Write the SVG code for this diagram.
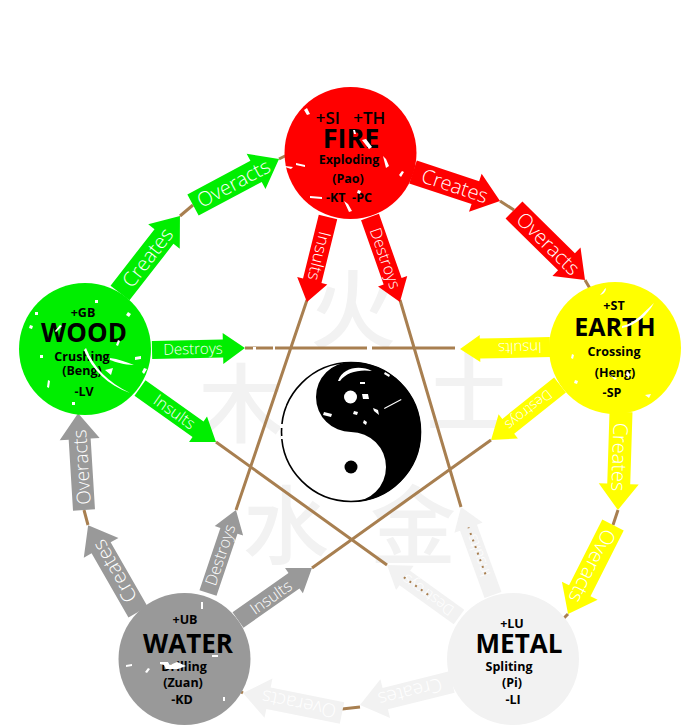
<svg xmlns="http://www.w3.org/2000/svg" width="700" height="726" viewBox="0 0 700 726">
<style>
  text { font-family: "Open Sans", "Noto Sans", "Noto Sans CJK SC", sans-serif; }
  .link { fill: none; stroke: #a87f50; stroke-width: 3; }
  .ghost { font-family: "Noto Sans CJK SC", sans-serif; font-size: 86px; font-weight: 500; fill: #f2f2f2; text-anchor: middle; }
  .lbl { fill: #fff; font-size: 20px; font-weight: 300; text-anchor: middle; }
  .small { font-size: 12.5px; font-weight: 700; fill: #000; text-anchor: middle; }
  .big { font-size: 26px; font-weight: 700; fill: #000; text-anchor: middle; }
  .fire { fill: #f00; } .wood { fill: #0e0; } .earth { fill: #ff0; } .water { fill: #999; } .metal { fill: #f2f2f2; }
  .fleck { fill: #fff; }
  .seep { fill: none; stroke: #a87f50; stroke-width: 2; stroke-dasharray: 2 5; }
</style>

<g id="characters">
  <text class="ghost" x="353" y="342">火</text>
  <text class="ghost" x="241" y="436">木</text>
  <text class="ghost" x="469" y="424">土</text>
  <text class="ghost" x="286" y="558">水</text>
  <text class="ghost" x="413" y="558">金</text>
</g>

<g id="connectors">
  <path class="link" d="M500 201L514 210M585 280L592 292M180 216L193 205M279 159L287 155M618 510L613 525M568 614L559 623M360 707L342 709M243 693L234 688M88 525L84 510"/>
  <path class="link" d="M245 348H460M307 300L236 510M400 300L461 507M216 442L387 565M491 440L312 568"/>
</g>

<g id="taiji">
  <circle cx="351" cy="432" r="69.500" fill="#fff" stroke="#000" stroke-width="1.600"/>
  <path fill="#000" d="M351 362A70 70 0 0 1 351 502A35 35 0 0 0 351 432A35 35 0 0 1 351 362Z"/>
  <circle cx="350.500" cy="397" r="6.500" fill="#fff"/>
  <circle cx="351" cy="467" r="6.500" fill="#000"/>
  <path class="fleck" d="M338 381C343 367 360 365 372 371C360 369 346 372 340 381ZM360 382l5 0 0 2 -5 0ZM362 394l6 0 1 5 -6 0ZM324 412l8 2 -1 3 -8 -2ZM373 408l5 2 1 5 -5 -4ZM354 411l4 1 -1 3 -4 -1ZM364 420l3 2 -1 3 -3 -2ZM384 408l17 -9 .5 1 -17 9ZM385 372l5 3 -1 2 -5 -3Z"/>
  <path class="fleck" d="M280 424h4v4h-4ZM281 436h4v3h-4ZM291 376l3 2 -2 2 -3 -2ZM286 392l3 1 -1 3 -3 -1ZM283 403l3 1 -1 3 -3 -1Z"/>
</g>

<g id="arrows-fire">
  <g transform="translate(413 172) rotate(18.400)"><polygon class="fire" points="0,-12 65.700,-12 65.700,-20 91.700,0 65.700,20 65.700,12 0,12"/><text class="lbl" x="44" y="7">Creates</text></g>
  <g transform="translate(514 210) rotate(44.600)"><polygon class="fire" points="0,-12 73.700,-12 73.700,-20 99.700,0 73.700,20 73.700,12 0,12"/><text class="lbl" x="48" y="7">Overacts</text></g>
  <g transform="translate(328 217) rotate(103.900)"><polygon class="fire" points="0,-9.500 65.600,-9.500 65.600,-15.500 87.600,0 65.600,15.500 65.600,9.500 0,9.500"/><text class="lbl" x="40" y="5" style="font-size:17px">Insults</text></g>
  <g transform="translate(370 217) rotate(70.600)"><polygon class="fire" points="0,-9.500 68.100,-9.500 68.100,-15.500 90.100,0 68.100,15.500 68.100,9.500 0,9.500"/><text class="lbl" x="44" y="5" style="font-size:16px">Destroys</text></g>
</g>

<g id="arrows-wood">
  <g transform="translate(120 293) rotate(-52.100)"><polygon class="wood" points="0,-12 71.600,-12 71.600,-20 97.600,0 71.600,20 71.600,12 0,12"/><text class="lbl" x="45" y="7">Creates</text></g>
  <g transform="translate(193 205) rotate(-28.100)"><polygon class="wood" points="0,-12 71.500,-12 71.500,-20 97.500,0 71.500,20 71.500,12 0,12"/><text class="lbl" x="46" y="7">Overacts</text></g>
  <g transform="translate(152 350) rotate(-1.200)"><polygon class="wood" points="0,-9 71,-9 71,-15.500 93,0 71,15.500 71,9 0,9"/><text class="lbl" x="41" y="5" style="font-size:15px">Destroys</text></g>
  <g transform="translate(140 388) rotate(35.400)"><polygon class="wood" points="0,-9.500 71.200,-9.500 71.200,-15.500 93.200,0 71.200,15.500 71.200,9.500 0,9.500"/><text class="lbl" x="42" y="5" style="font-size:16px">Insults</text></g>
</g>

<g id="arrows-earth">
  <g transform="translate(550 347) rotate(178.700)"><polygon class="earth" points="0,-10 70,-10 70,-13.500 90,0 70,13.500 70,10 0,10"/><text class="lbl" x="30" y="5" style="font-size:15px">Insults</text></g>
  <g transform="translate(560 385) rotate(141.400)"><polygon class="earth" points="0,-9.500 66.200,-9.500 66.200,-15.500 88.200,0 66.200,15.500 66.200,9.500 0,9.500"/><text class="lbl" x="40" y="5" style="font-size:14px">Destroys</text></g>
  <g transform="translate(621 412) rotate(91.800)"><polygon class="earth" points="0,-11.500 72,-11.500 72,-20 98,0 72,20 72,11.500 0,11.500"/><text class="lbl" x="45" y="7">Creates</text></g>
  <g transform="translate(613 525) rotate(116.800)"><polygon class="earth" points="0,-12 73.700,-12 73.700,-20 99.700,0 73.700,20 73.700,12 0,12"/><text class="lbl" x="46" y="7">Overacts</text></g>
</g>

<g id="arrows-water">
  <g transform="translate(84 510) rotate(-93.500)"><polygon class="water" points="0,-11 71,-11 71,-20 97,0 71,20 71,11 0,11"/><text class="lbl" x="43" y="7" style="font-size:19px">Overacts</text></g>
  <g transform="translate(138 612) rotate(-119.900)"><polygon class="water" points="0,-11 74,-11 74,-20 100,0 74,20 74,11 0,11"/><text class="lbl" x="47" y="7">Creates</text></g>
  <g transform="translate(208 593) rotate(-71.400)"><polygon class="water" points="0,-9 65.600,-9 65.600,-15 87.600,0 65.600,15 65.600,9 0,9"/><text class="lbl" x="40" y="5" style="font-size:16px">Destroys</text></g>
  <g transform="translate(238 620) rotate(-35.100)"><polygon class="water" points="0,-9.500 68.400,-9.500 68.400,-15.500 90.400,0 68.400,15.500 68.400,9.500 0,9.500"/><text class="lbl" x="40" y="6" style="font-size:16px">Insults</text></g>
</g>

<g id="arrows-metal">
  <g transform="translate(493 595) rotate(-110)"><polygon class="metal" points="0,-9 71.600,-9 71.600,-15 93.600,0 71.600,15 71.600,9 0,9"/><text class="lbl" x="42" y="5" style="font-size:15px">Insults</text><path class="seep" d="M22 0H72"/></g>
  <g transform="translate(459 617) rotate(-144.200)"><polygon class="metal" points="0,-9 66.800,-9 66.800,-15 88.800,0 66.800,15 66.800,9 0,9"/><text class="lbl" x="38" y="5" style="font-size:15px">Destroys</text><path class="seep" d="M38 0H68"/></g>
  <g transform="translate(452 682) rotate(166)"><polygon class="metal" points="0,-11 68.800,-11 68.800,-20 94.800,0 68.800,20 68.800,11 0,11"/><text class="lbl" x="43" y="7" style="font-size:19px">Creates</text></g>
  <g transform="translate(342 713) rotate(-168.600)"><polygon class="metal" points="0,-11 75,-11 75,-20 101,0 75,20 75,11 0,11"/><text class="lbl" x="44" y="7" style="font-size:19px">Overacts</text></g>
</g>

<g id="node-fire">
  <circle class="fire" cx="350.500" cy="153" r="66"/>
  <text class="small" x="350.500" y="124" style="font-size:17px;font-weight:600" xml:space="preserve">+SI   +TH</text>
  <text class="big" x="351" y="148" style="font-size:27px">FIRE</text>
  <text class="small" x="349" y="164">Exploding</text>
  <text class="small" x="348" y="183">(Pao)</text>
  <text class="small" x="349" y="202" xml:space="preserve">-KT  -PC</text>
  <path class="fleck" d="M304 110l3 -2 3 6 -3 1ZM296 163l9 2 0 2 -9 -2ZM285 166l8 1 -2 2 -6 -2ZM383 156l3 3 3 7 -3 2ZM402 171l2 1 -3 5 -2 -2ZM310 196l12 1 0 2 -12 -1ZM344 201l4 3 4 7 -3 1ZM358 190l3 1 -1 3 -3 -1ZM362 140l4 -1 6 8 -3 2ZM353 130l2 0 1 4 -2 0Z"/>
</g>

<g id="node-wood">
  <circle class="wood" cx="85" cy="349" r="66"/>
  <text class="small" x="83" y="317">+GB</text>
  <text class="big" x="84" y="342">WOOD</text>
  <text class="small" x="82" y="361">Crushing</text>
  <text class="small" x="82" y="375">(Beng)</text>
  <text class="small" x="84" y="396">-LV</text>
  <path class="fleck" d="M86 348C94 368 108 382 130 393C108 385 92 370 84 350ZM110 358C118 359 126 362 134 365C124 365 116 362 110 360ZM105 370l8 -2 -2 7ZM135 357l6 -1 0 3 -6 1ZM30 325l3 1 -1 3 -3 -1ZM48 380l2 1 -1 7 -2 -1ZM72 402l3 0 0 3 -3 0ZM128 312l3 2 -2 3 -3 -2ZM144 368l3 1 -3 5 -2 -2ZM60 325l2 1 -6 6 -1 -1ZM35 312l3 0 0 3 -3 0ZM118 340l2 1 -2 5 -2 -1ZM40 355l3 0 0 3 -3 0ZM95 300l3 0 0 3 -3 0Z"/>
</g>

<g id="node-earth">
  <circle class="earth" cx="615" cy="348" r="66"/>
  <text class="small" x="614" y="310">+ST</text>
  <text class="big" x="615" y="336" style="font-size:25px">EARTH</text>
  <text class="small" x="614" y="356">Crossing</text>
  <text class="small" x="615" y="377">(Heng)</text>
  <text class="small" x="612" y="397">-SP</text>
  <path class="fleck" d="M600 295C604 291 604 289 606 288C606 291 604 294 600 295ZM622 326C635 324 646 310 654 303C648 314 636 326 622 328ZM608 373l5 4 4 1 -2 2ZM627 371l3 3 -1 4 -3 -3ZM645 395l6 -1 -2 4ZM575 380l3 1 -1 3 -3 -1ZM572 354l2 1 -1 4 -2 -1Z"/>
</g>

<g id="node-water">
  <circle class="water" cx="184.500" cy="659" r="66"/>
  <text class="small" x="185" y="624">+UB</text>
  <text class="big" x="188" y="653">WATER</text>
  <text class="small" x="184" y="671">Drilling</text>
  <text class="small" x="183" y="687">(Zuan)</text>
  <text class="small" x="182" y="704">-KD</text>
  <path class="fleck" d="M160 662l8 0 2 3 7 -3 9 4 -8 3 -12 0 -2 -4 -4 -1ZM126 665l6 -1 0 2 -6 1ZM148 668l2 1 -3 4 -2 -1ZM201 602l2 0 0 7 -2 0ZM212 655l6 0 0 2 -6 0ZM223 697l2 0 0 4 -2 0Z"/>
</g>

<g id="node-metal">
  <circle class="metal" cx="513" cy="659" r="66"/>
  <text class="small" x="512" y="628">+LU</text>
  <text class="big" x="519" y="653">METAL</text>
  <text class="small" x="509" y="671">Spliting</text>
  <text class="small" x="512" y="687">(Pi)</text>
  <text class="small" x="513" y="704">-LI</text>
</g>

<g id="wear">
  <path class="fleck" d="M253 347h3v3h-3ZM273 346h2v4h-2ZM367 346h5v4h-5ZM455 346h5v4h-5ZM258 455l4 1 -1 2 -4 -1ZM247 490l3 1 -1 3 -3 -1Z"/>
</g>
</svg>
